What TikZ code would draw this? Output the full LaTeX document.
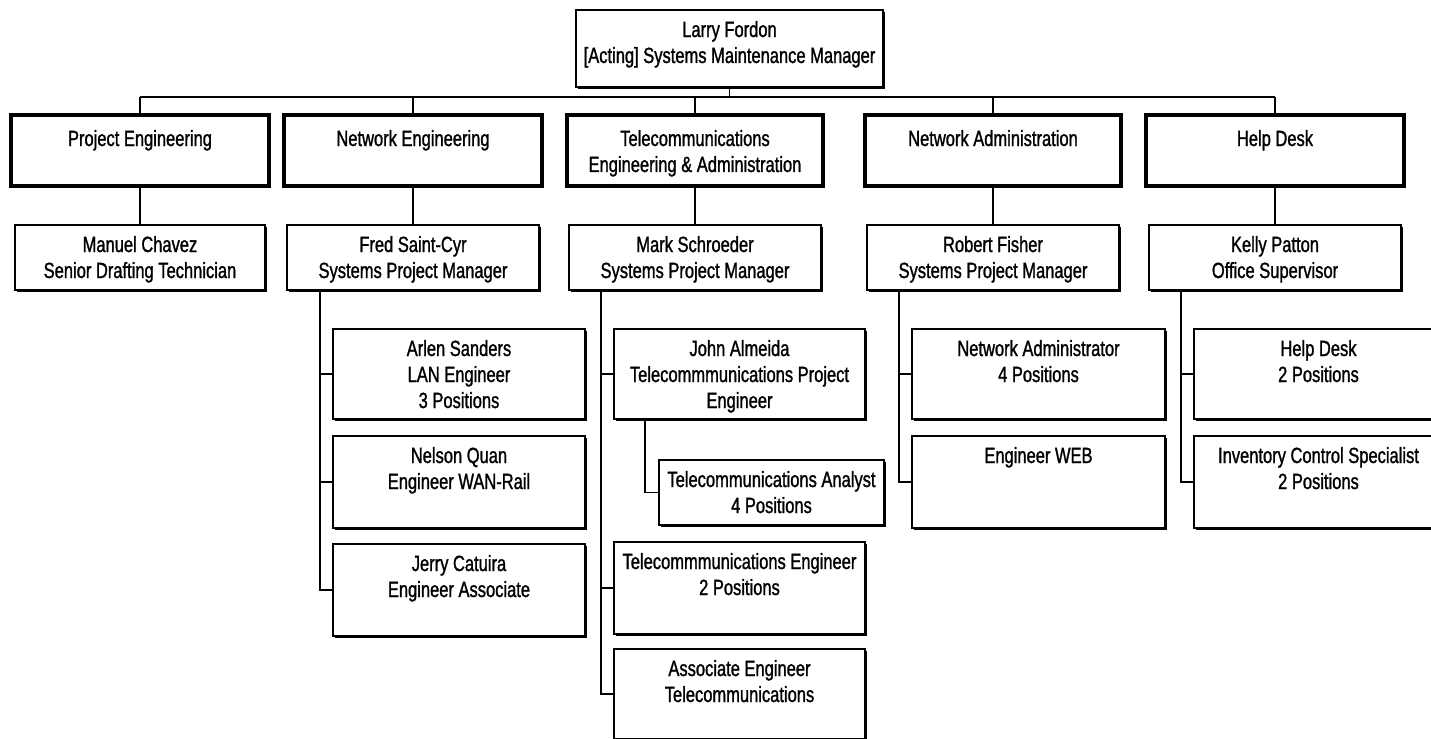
\documentclass[tikz,border=0pt]{standalone}
\usepackage{fontspec}
\newfontfamily\boxfont{Liberation Sans}[FakeStretch=0.75,RawFeature={embolden=1.2}]
\usetikzlibrary{shadows}
\tikzset{
  box/.style={draw=black, fill=white, line width=0.7pt, inner sep=0pt, outer sep=0pt,
    font=\boxfont\fontsize{11}{13}\selectfont,
    drop shadow={shadow xshift=1pt, shadow yshift=-1pt, fill=black, opacity=1}},
  dept/.style={line width=1.8pt},
  conn/.style={draw=black, line width=0.75pt}
}
\newcommand\firstgap{13.5pt}
% #1 extra style, #2 name, #3 x1, #4 y1, #5 x2, #6 y2, #7 text (pixel units)
\newcommand\orgbox[7][]{%
  \pgfmathsetmacro\bw{(#5-#3)*0.5}%
  \pgfmathsetmacro\bh{(#6-#4)*0.5}%
  \node[box,#1,minimum width=\bw pt,minimum height=\bh pt] (#2) at ({(#3+#5)/2},{(#4+#6)/2})
    {\parbox[c][\bh pt][t]{\bw pt}{\centering\rule{0pt}{\firstgap}#7\par}};%
}
\begin{document}
\begin{tikzpicture}[x=0.5pt,y=-0.5pt]
\useasboundingbox (0,0) rectangle (1431,739);
\fill[white] (0,0) rectangle (1431,739);
\clip (0,0) rectangle (1431,739);

% top
\orgbox{top}{576}{10}{883}{87}{Larry Fordon\\{}[Acting] Systems Maintenance Manager}

% departments
\renewcommand\firstgap{15.5pt}
\orgbox[dept]{pe}{11}{115}{269}{186}{Project Engineering}
\orgbox[dept]{ne}{284}{115}{542}{186}{Network Engineering}
\orgbox[dept]{te}{567}{115}{823}{186}{Telecommunications\\Engineering \& Administration}
\orgbox[dept]{na}{865}{115}{1121}{186}{Network Administration}
\orgbox[dept]{hd}{1146}{115}{1404}{186}{Help Desk}
\renewcommand\firstgap{13.5pt}

% managers
\orgbox{manuel}{15}{225}{265}{290}{Manuel Chavez\\Senior Drafting Technician}
\orgbox{fred}{287}{225}{539}{290}{Fred Saint-Cyr\\Systems Project Manager}
\orgbox{mark}{569}{225}{821}{290}{Mark Schroeder\\Systems Project Manager}
\orgbox{robert}{867}{225}{1119}{290}{Robert Fisher\\Systems Project Manager}
\orgbox{kelly}{1149}{225}{1401}{290}{Kelly Patton\\Office Supervisor}

% network engineering staff
\orgbox{arlen}{333}{329}{585}{419}{Arlen Sanders\\LAN Engineer\\3 Positions}
\orgbox{nelson}{333}{436}{585}{528}{Nelson Quan\\Engineer WAN-Rail}
\orgbox{jerry}{333}{544}{585}{636}{Jerry Catuira\\Engineer Associate}

% telecom staff
\orgbox{john}{614}{329}{865}{419}{John Almeida\\Telecommmunications Project\\Engineer}
\orgbox{analyst}{659}{460}{884}{525}{Telecommunications Analyst\\4 Positions}
\orgbox{teleng}{614}{542}{865}{634}{Telecommmunications Engineer\\2 Positions}
\orgbox{assoc}{614}{649}{865}{739}{Associate Engineer\\Telecommunications}

% network administration staff
\orgbox{netadm}{912}{329}{1165}{419}{Network Administrator\\4 Positions}
\orgbox{engweb}{912}{436}{1165}{528}{Engineer WEB}

% help desk staff
\orgbox{hdpos}{1194}{329}{1443}{419}{Help Desk\\2 Positions}
\orgbox{inv}{1194}{436}{1443}{528}{Inventory Control Specialist\\2 Positions}

% connectors
\coordinate (bar) at (0,97);
\draw[conn] (top.south) -- (top.south |- bar);
\draw[conn] (pe.north |- bar) -- (hd.north |- bar);
\foreach \d in {pe,ne,te,na,hd}{\draw[conn] (\d.north) -- (\d.north |- bar);}
\draw[conn] (pe.south) -- (manuel.north);
\draw[conn] (ne.south) -- (fred.north);
\draw[conn] (te.south) -- (mark.north);
\draw[conn] (na.south) -- (robert.north);
\draw[conn] (hd.south) -- (kelly.north);

\foreach \c in {arlen,nelson,jerry}{\draw[conn] ([xshift=16.5pt]fred.south west) |- (\c.west);}
\foreach \c in {john,teleng,assoc}{\draw[conn] ([xshift=16pt]mark.south west) |- (\c.west);}
\draw[conn] ([xshift=15.5pt]john.south west) |- (analyst.west);
\foreach \c in {netadm,engweb}{\draw[conn] ([xshift=16pt]robert.south west) |- (\c.west);}
\foreach \c in {hdpos,inv}{\draw[conn] ([xshift=16pt]kelly.south west) |- (\c.west);}
\end{tikzpicture}
\end{document}
